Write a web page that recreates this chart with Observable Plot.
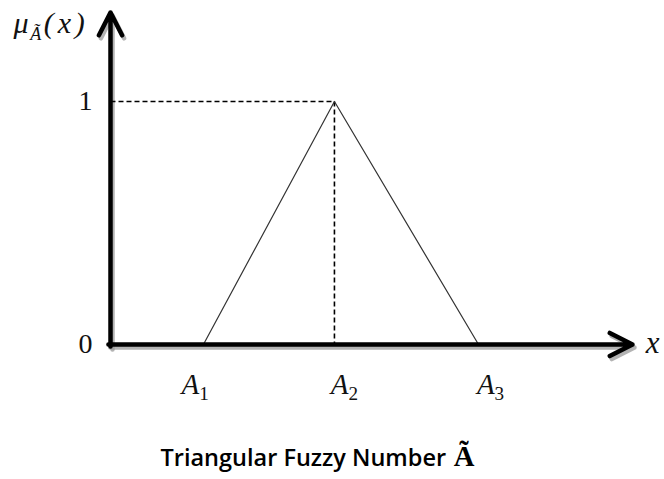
<!DOCTYPE html>
<html>
<head>
<meta charset="utf-8">
<script src="https://cdn.jsdelivr.net/npm/d3@7"></script>
<script src="https://cdn.jsdelivr.net/npm/@observablehq/plot@0.6"></script>
<style>
  html, body { margin: 0; padding: 0; background: #fff; }
</style>
</head>
<body>
<div id="chart"></div>
<script>
// ---- data ----
const pointNames = ["A1", "A2", "A3"];          // triangle vertices
const pointX = [17.8, 42.9, 70.5];              // x positions of A1, A2, A3
const membership = [0, 1, 0];                   // μ(x) at A1, A2, A3
const labelX = [16.2, 44.8, 72.8];              // label centres under the axis
const yTicks = [0, 1];
const yTickLabels = ["0", "1"];
const xAxisEnd = 100;                           // x-axis arrow tip
const yAxisEnd = 1.366;                         // y-axis arrow tip
const yTitle = "μÃ(x)";
const xTitle = "x";
const caption = "Triangular Fuzzy Number Ã";

const tri = pointNames.map((n, i) => ({name: n, x: pointX[i], y: membership[i]}));
const peak = tri[1];
const labels = pointNames.map((n, i) => ({name: n, x: labelX[i]}));
const ticks = yTicks.map((v, i) => ({y: v, label: yTickLabels[i]}));

const serif = "'Liberation Serif', 'DejaVu Serif', serif";

const chart = Plot.plot({
  width: 664,
  height: 479,
  margin: 0,
  x: {domain: [0, 100], range: [110, 632], axis: null},
  y: {domain: [0, 1], range: [344, 101], axis: null},
  marks: [
    // axis shadows
    Plot.arrow([{x1: -0.4, y1: 0, x2: xAxisEnd, y2: 0}, {x1: 0, y1: -0.008, x2: 0, y2: yAxisEnd}],
      {x1: "x1", y1: "y1", x2: "x2", y2: "y2", stroke: "#9a9a9a", strokeOpacity: 0.75,
       strokeWidth: 4.5, headLength: 8.5, headAngle: 54, dx: 2, dy: 3}),
    // dashed guides
    Plot.link([{x1: 0, y1: peak.y, x2: peak.x, y2: peak.y}, {x1: peak.x, y1: peak.y, x2: peak.x, y2: 0}],
      {x1: "x1", y1: "y1", x2: "x2", y2: "y2", stroke: "#000", strokeWidth: 1.6, strokeDasharray: "5,3"}),
    // triangle
    Plot.line(tri, {x: "x", y: "y", stroke: "#333", strokeWidth: 1.2}),
    // axes
    Plot.arrow([{x1: -0.4, y1: 0, x2: xAxisEnd, y2: 0}, {x1: 0, y1: -0.008, x2: 0, y2: yAxisEnd}],
      {x1: "x1", y1: "y1", x2: "x2", y2: "y2", stroke: "#000",
       strokeWidth: 4.5, headLength: 8.5, headAngle: 54}),
    // y tick labels
    Plot.text(ticks, {x: 0, y: "y", text: "label", dx: -25, fontFamily: serif, fontSize: 28, fill: "#111"}),
    // x point labels
    Plot.text(labels, {x: "x", y: 0, text: "name", dy: 40, fontFamily: serif, fontSize: 29,
      fontStyle: "italic", fill: "#111"}),
    // x title
    Plot.text([xTitle], {x: xAxisEnd, y: 0, text: d => d, dx: 20, dy: -1, fontFamily: serif,
      fontSize: 31, fontStyle: "italic", fill: "#111"}),
    // y title
    Plot.text([yTitle], {x: 0, y: yAxisEnd, text: d => d, dx: -97, dy: 11, textAnchor: "start",
      fontFamily: serif, fontSize: 30, fontStyle: "italic", fill: "#111"}),
    // caption
    Plot.text([caption], {frameAnchor: "bottom-left", text: d => d, dx: 160, dy: -14, textAnchor: "start",
      fontFamily: "'Open Sans', sans-serif", fontWeight: 600, fontSize: 23.5, fill: "#000"})
  ]
});

document.getElementById("chart").appendChild(chart);

// subscripts and mixed fonts (post-process the rendered text elements)
const svg = d3.select(chart);
svg.selectAll("text").each(function() {
  const t = d3.select(this);
  const s = this.textContent;
  if (pointNames.includes(s)) {
    t.text(null);
    t.append("tspan").text(s[0]);
    t.append("tspan").attr("dy", "0.3em").attr("font-size", "0.66em").attr("font-style", "normal").text(s.slice(1));
  } else if (s === yTitle) {
    t.text(null);
    t.append("tspan").text(s[0]);
    t.append("tspan").attr("dy", "0.4em").attr("dx", "0.1em").attr("font-size", "0.6em").text(s[1]);
    t.append("tspan").attr("dy", "-0.24em").attr("dx", "0.08em").attr("letter-spacing", "0.13em").text(s.slice(2));
  } else if (s === caption) {
    t.text(null);
    t.append("tspan").text(s.slice(0, -1));
    t.append("tspan").attr("dx", "0.05em").attr("font-family", serif).attr("font-weight", "bold")
      .attr("font-size", "1.22em").text(s.slice(-1));
  }
});
</script>
</body>
</html>
